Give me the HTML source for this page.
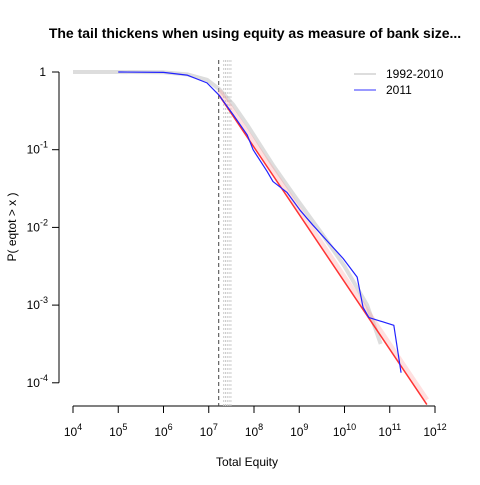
<!DOCTYPE html>
<html><head><meta charset="utf-8"><style>
body{margin:0;background:#fff}
svg{font-family:"Liberation Sans",Arial,sans-serif}
</style></head><body>
<svg id="chart" width="480" height="480" viewBox="0 0 480 480">
<text x="255" y="38" text-anchor="middle" font-size="14" font-weight="bold">The tail thickens when using equity as measure of bank size...</text>
<text x="247" y="466" text-anchor="middle" font-size="12">Total Equity</text>
<text transform="translate(16,227) rotate(-90)" text-anchor="middle" font-size="12">P( eqtot &gt; x )</text>
<g id="axes"></g>
<g id="marks"></g>
<g>
<line x1="354" y1="74" x2="376" y2="74" stroke="#bbb"/>
<text x="386" y="78" font-size="12">1992-2010</text>
<line x1="354" y1="90" x2="376" y2="90" stroke="#33f"/>
<text x="386" y="94" font-size="12">2011</text>
</g>
</svg>
<script>
const xTicks=[4,5,6,7,8,9,10,11,12];
const yTicks=[0,-1,-2,-3,-4];
const blueX=[5,6,6.52,6.96,7.23,7.54,7.85,7.98,8.29,8.42,8.73,9.02,9.3,9.61,9.97,10.28,10.35,10.41,10.54,11.09,11.25];
const blueY=[0,-0.005,-0.04,-0.14,-0.3,-0.55,-0.81,-1.0,-1.28,-1.41,-1.55,-1.78,-1.97,-2.17,-2.4,-2.64,-2.85,-3.03,-3.16,-3.26,-3.87];
const greyX=[4,5,6,6.52,6.96,7.23,7.54,7.85,8.42,8.9,9.5,10,10.5,10.8];
const greyY=[0,0,-0.004,-0.03,-0.1,-0.22,-0.42,-0.68,-1.2,-1.6,-2.08,-2.5,-3.0,-3.5];
const fitX=[7.23,11.82];
const fitY=[-0.3,-4.28];
const cutoff=7.22;
const cutoffs=[7.33,7.37,7.41,7.45,7.49];
const NS="http://www.w3.org/2000/svg";
const sx=v=>73+(v-4)*45.25, sy=v=>72-v*77.7;
function mk(p,t,a){const e=document.createElementNS(NS,t);for(const k in a)e.setAttribute(k,a[k]);p.appendChild(e);return e;}
const ax=document.getElementById('axes'), mg=document.getElementById('marks');
let l=mk(ax,'line',{x1:sx(4),x2:sx(12),y1:406,y2:406,stroke:'#000'});


l=mk(ax,'line',{x1:59,x2:59,y1:sy(0),y2:sy(-4),stroke:'#000'});


xTicks.forEach(t=>{
 mk(ax,'line',{x1:sx(t),x2:sx(t),y1:406,y2:413,stroke:'#000'});
 const tx=mk(ax,'text',{x:sx(t),y:436,'text-anchor':'middle','font-size':12});
 
 
 tx.innerHTML='10<tspan dy="-6" font-size="9">'+t+'</tspan>';
});
yTicks.forEach(t=>{
 mk(ax,'line',{x1:52,x2:59,y1:sy(t),y2:sy(t),stroke:'#000'});
 const tx=mk(ax,'text',{x:t==0?46:48,y:sy(t)+4,'text-anchor':'end','font-size':12});
 
 
 tx.innerHTML=t==0?'1':'10<tspan dy="-6" font-size="9">'+t+'</tspan>';
});
cutoffs.forEach(c=>{mk(mg,'line',{x1:sx(c),x2:sx(c),y1:60,y2:406,stroke:'#ccc','stroke-dasharray':'2,2'});});
l=mk(mg,'line',{x1:sx(cutoff),x2:sx(cutoff),y1:60,y2:406,stroke:'#444','stroke-dasharray':'4,3'});


const pts=(X,Y)=>X.map((v,i)=>sx(v)+','+sy(Y[i])).join(' ');
l=mk(mg,'polyline',{points:pts(greyX,greyY),fill:'none',stroke:'#bbb','stroke-width':4,'stroke-opacity':0.5,'stroke-linejoin':'round'});


l=mk(mg,'line',{x1:sx(fitX[0]),y1:sy(fitY[0]+0.06),x2:sx(fitX[1]),y2:sy(fitY[1]+0.06),stroke:'#f99','stroke-width':5,'stroke-opacity':0.3});
l=mk(mg,'line',{x1:sx(fitX[0]),y1:sy(fitY[0]),x2:sx(fitX[1]),y2:sy(fitY[1]),stroke:'#f33','stroke-width':1.5});


l=mk(mg,'polyline',{points:pts(blueX,blueY),fill:'none',stroke:'#22f','stroke-width':1.2,'stroke-linejoin':'round'});


</script>
</body></html>
